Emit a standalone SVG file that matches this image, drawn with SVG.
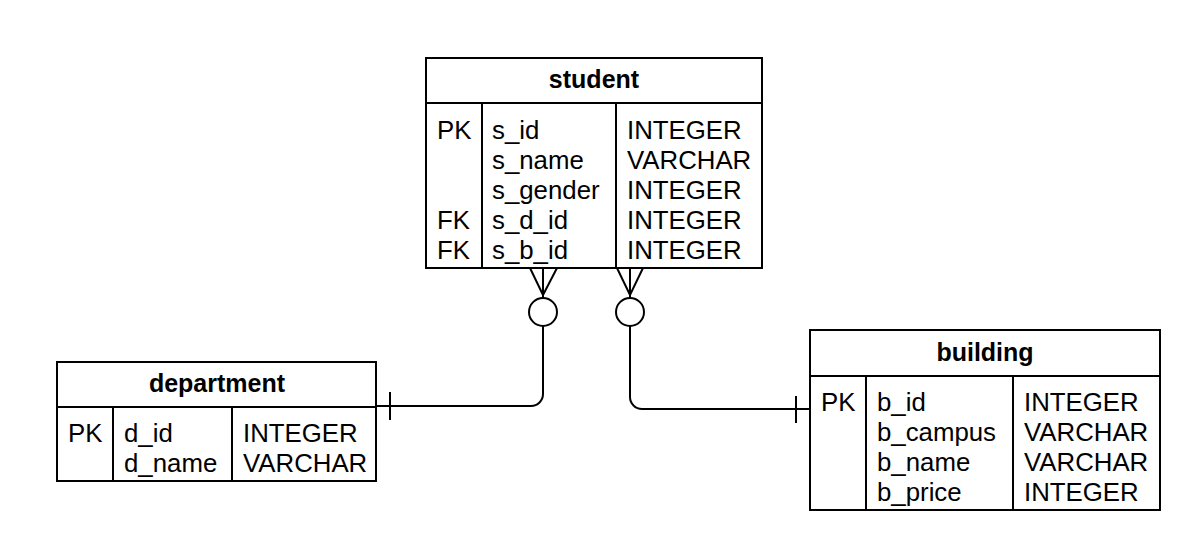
<svg xmlns="http://www.w3.org/2000/svg" width="1202" height="552" viewBox="0 0 1202 552">
<style>
.box{fill:#fff;stroke:#000;stroke-width:2}
.ln{fill:none;stroke:#000;stroke-width:2}
.t{font-family:"Liberation Sans",Arial,sans-serif;font-size:25.8px;fill:#000}
.h{font-family:"Liberation Sans",Arial,sans-serif;font-size:25px;font-weight:bold;fill:#000;text-anchor:middle}
</style>
<rect width="1202" height="552" fill="#fff"/>
<g id="connectors">
<path class="ln" d="M543,326 V394 A12,12 0 0 1 531,406 H376"/>
<path class="ln" d="M390,392 V420"/>
<path class="ln" d="M530,268 L543,295 L557,268 M543,268 V298"/>
<circle cx="543" cy="312" r="14" class="box"/>
<path class="ln" d="M630,326 V397 A12,12 0 0 0 642,409 H810"/>
<path class="ln" d="M796,396 V423"/>
<path class="ln" d="M617,268 L630,295 L643,268 M630,268 V298"/>
<circle cx="630" cy="312" r="14" class="box"/>
</g>
<g id="student">
<rect class="box" x="426" y="58" width="336" height="210"/>
<path class="ln" d="M426,103 H762 M482,103 V268 M616,103 V268"/>
<text class="h" x="594" y="88">student</text>
<text class="t" x="437" y="139">PK</text>
<text class="t" x="437" y="229">FK</text>
<text class="t" x="437" y="259">FK</text>
<text class="t" x="492" y="139">s_id</text>
<text class="t" x="492" y="169">s_name</text>
<text class="t" x="492" y="199">s_gender</text>
<text class="t" x="492" y="229">s_d_id</text>
<text class="t" x="492" y="259">s_b_id</text>
<text class="t" x="627" y="139">INTEGER</text>
<text class="t" x="627" y="169">VARCHAR</text>
<text class="t" x="627" y="199">INTEGER</text>
<text class="t" x="627" y="229">INTEGER</text>
<text class="t" x="627" y="259">INTEGER</text>
</g>
<g id="department">
<rect class="box" x="57" y="362" width="319" height="119"/>
<path class="ln" d="M57,407 H376 M113,407 V481 M232,407 V481"/>
<text class="h" x="217" y="392">department</text>
<text class="t" x="68" y="442">PK</text>
<text class="t" x="124" y="442">d_id</text>
<text class="t" x="124" y="472">d_name</text>
<text class="t" x="243" y="442">INTEGER</text>
<text class="t" x="243" y="472">VARCHAR</text>
</g>
<g id="building">
<rect class="box" x="810" y="330" width="350" height="180"/>
<path class="ln" d="M810,376 H1160 M866,376 V510 M1013,376 V510"/>
<text class="h" x="985" y="361">building</text>
<text class="t" x="821" y="411">PK</text>
<text class="t" x="877" y="411">b_id</text>
<text class="t" x="877" y="441">b_campus</text>
<text class="t" x="877" y="471">b_name</text>
<text class="t" x="877" y="501">b_price</text>
<text class="t" x="1024" y="411">INTEGER</text>
<text class="t" x="1024" y="441">VARCHAR</text>
<text class="t" x="1024" y="471">VARCHAR</text>
<text class="t" x="1024" y="501">INTEGER</text>
</g>
</svg>
